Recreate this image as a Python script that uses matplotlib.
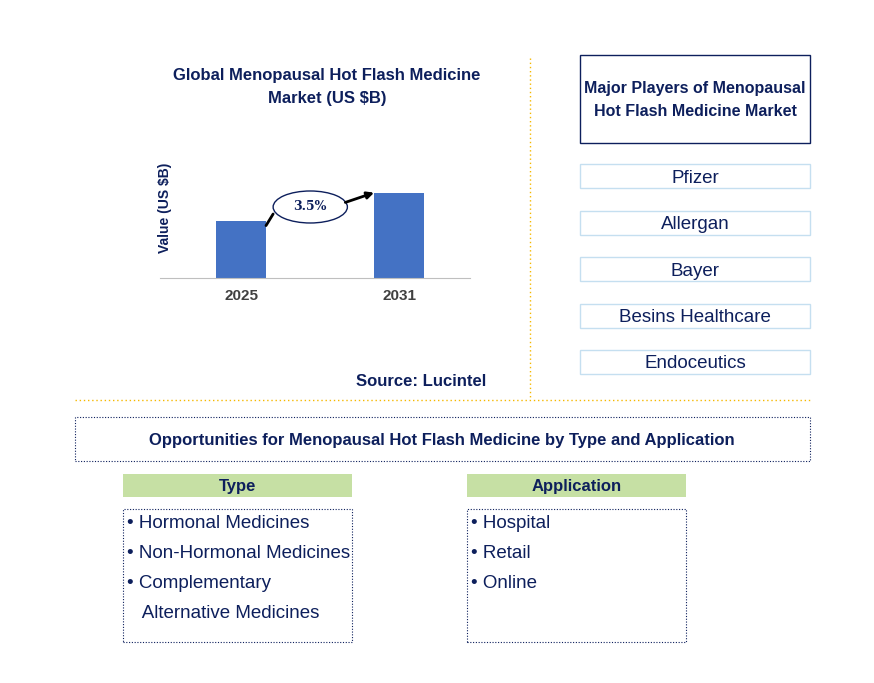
import matplotlib.pyplot as plt
from matplotlib.patches import Rectangle, Ellipse

plt.rcParams["font.family"] = "Liberation Sans"

W, H = 874, 683
NAVY = "#0d1f5c"

years = ["2025", "2031"]
values = [1.87, 2.8]
cagr_label = "3.5%"
players = ["Pfizer", "Allergan", "Bayer", "Besins Healthcare", "Endoceutics"]
type_items = ["• Hormonal Medicines", "• Non-Hormonal Medicines", "• Complementary",
              "   Alternative Medicines"]
app_items = ["• Hospital", "• Retail", "• Online"]

fig = plt.figure(figsize=(W / 100, H / 100), dpi=100)


def fx(x):
    return x / W


def fy(y):
    return 1 - y / H


def rect(x0, y0, x1, y1, **kw):
    fig.add_artist(Rectangle((fx(x0), fy(y1)), fx(x1 - x0), (y1 - y0) / H,
                             transform=fig.transFigure, **kw))


def text(x, y, s, **kw):
    kw.setdefault("color", NAVY)
    fig.text(fx(x), fy(y), s, **kw)


# bar chart
ax = fig.add_axes([fx(160), fy(278), fx(310), 128 / H])
x = [0, 1]
ax.bar(x, values, width=0.316, color="#4472c4")
ax.set_xlim(-0.513, 1.449)
ax.set_ylim(0, 4.2)
ax.set_xticks(x)
ax.set_xticklabels(years, fontsize=11, fontweight="bold", color="#404040")
ax.tick_params(length=0, pad=8)
ax.set_yticks([])
for s in ["top", "right", "left"]:
    ax.spines[s].set_visible(False)
ax.spines["bottom"].set_color("#bfbfbf")
ax.set_ylabel("Value (US $B)", fontsize=10, fontweight="bold", color=NAVY, labelpad=-2)
ax.yaxis.set_label_coords(0.04, 0.55)
ax.add_patch(Ellipse((0.438, 2.33), 0.47, 1.05, facecolor="white", edgecolor=NAVY, lw=1))
ax.text(0.438, 2.33, cagr_label, ha="center", va="center", fontsize=9,
        fontweight="bold", color=NAVY, family="DejaVu Serif")
ax.annotate("", xy=(0.203, 2.1), xytext=(0.158, values[0] - 0.15),
            arrowprops=dict(arrowstyle="-", color="black", lw=2, shrinkA=0, shrinkB=0))
ax.annotate("", xy=(0.842, values[1] - 0.0), xytext=(0.66, 2.48),
            arrowprops=dict(arrowstyle="-|>", color="black", lw=2, shrinkA=0, shrinkB=0))

text(327, 87, "Global Menopausal Hot Flash Medicine\nMarket (US $B)", ha="center",
     va="center", fontsize=12, fontweight="bold", linespacing=1.65)
text(486, 381, "Source: Lucintel", ha="right", va="center", fontsize=12, fontweight="bold")

# separators
fig.add_artist(plt.Line2D([fx(530), fx(530)], [fy(58), fy(398)], transform=fig.transFigure,
                          color="#f5b800", lw=1, ls=(0, (1, 2))))
fig.add_artist(plt.Line2D([fx(75), fx(810)], [fy(400), fy(400)], transform=fig.transFigure,
                          color="#f5b800", lw=1, ls=(0, (1, 2))))

# players
rect(580, 55, 810, 143, facecolor="white", edgecolor=NAVY, lw=1)
text(695, 100, "Major Players of Menopausal\nHot Flash Medicine Market", ha="center",
     va="center", fontsize=11.5, fontweight="bold", linespacing=1.65)
for i, p in enumerate(players):
    cy = 176 + i * 46.5
    rect(580, cy - 12, 810, cy + 12, facecolor="white", edgecolor="#c5dff0", lw=1)
    text(695, cy + 2, p, ha="center", va="center", fontsize=13.5)

# opportunities
rect(75, 417, 810, 461, facecolor="white", edgecolor=NAVY, lw=0.8, ls=(0, (1, 1.5)))
text(442, 440, "Opportunities for Menopausal Hot Flash Medicine by Type and Application",
     ha="center", va="center", fontsize=12, fontweight="bold")

for (x0, x1, title, items) in [(123, 352, "Type", type_items), (467, 686, "Application", app_items)]:
    rect(x0, 474, x1, 497, facecolor="#c6e0a4", edgecolor="none")
    text((x0 + x1) / 2, 487, title, ha="center", va="center", fontsize=12, fontweight="bold")
    rect(x0, 509, x1, 642, facecolor="white", edgecolor=NAVY, lw=0.8, ls=(0, (1, 1.5)))
    for j, it in enumerate(items):
        text(x0 + 4, 524 + j * 30, it, ha="left", va="center", fontsize=13.5)

fig.savefig("out.png", dpi=100)
